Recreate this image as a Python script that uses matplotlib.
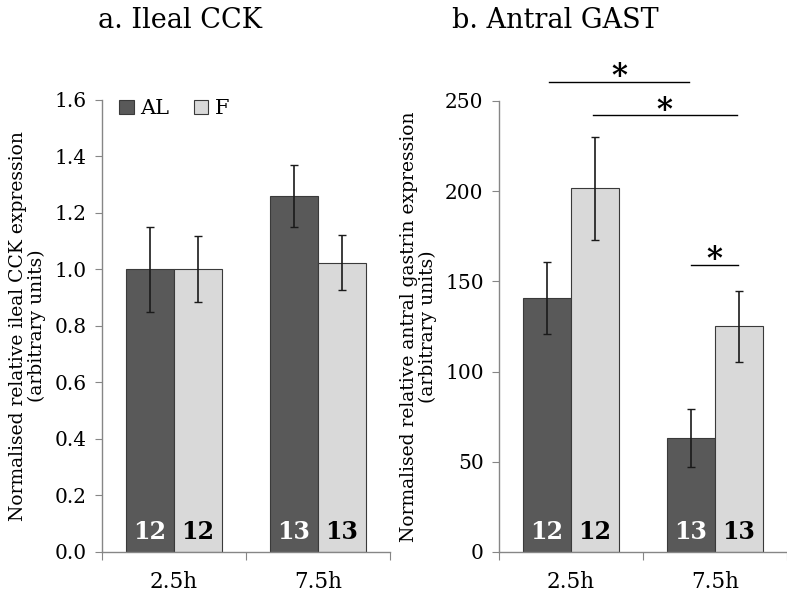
import matplotlib
matplotlib.use("Agg")
import matplotlib.pyplot as plt
import numpy as np

plt.rcParams['font.family'] = ['DejaVu Serif']

categories = ["2.5h", "7.5h"]
groups = ["AL", "F"]

cck_al = [1.000, 1.260]
cck_al_err = [0.150, 0.111]
cck_f = [1.002, 1.024]
cck_f_err = [0.118, 0.097]
cck_n_al = ["12", "13"]
cck_n_f = ["12", "13"]

gast_al = [140.6, 63.4]
gast_al_err = [20.0, 16.1]
gast_f = [201.7, 125.1]
gast_f_err = [28.5, 19.8]
gast_n_al = ["12", "13"]
gast_n_f = ["12", "13"]

# significance brackets: (x_start, x_end, y)
sig_lines = [(-0.153, 0.822, 260.5), (0.150, 1.150, 242.0), (0.836, 1.162, 159.0)]

dark = "#595959"
light = "#d9d9d9"
edge = "#3a3a3a"
spine = "#868686"

fig = plt.figure(figsize=(7.87, 5.92), dpi=100)
ax1 = fig.add_axes([0.1296, 0.0676, 0.366, 0.7635])
ax2 = fig.add_axes([0.634, 0.0676, 0.366, 0.7618])

w = 1/3
x = np.arange(len(categories))

def draw(ax, al, ale, f, fe, nal, nf, ylim, yticks, fmt, ylabel, npos):
    ax.bar(x - w/2, al, w, color=dark, edgecolor=edge, linewidth=0.8, zorder=2, label=groups[0])
    ax.bar(x + w/2, f, w, color=light, edgecolor=edge, linewidth=0.8, zorder=2, label=groups[1])
    ax.errorbar(x - w/2, al, yerr=ale, fmt='none', ecolor='#1a1a1a', elinewidth=1.2, capsize=3, capthick=1.0, zorder=3)
    ax.errorbar(x + w/2, f, yerr=fe, fmt='none', ecolor='#1a1a1a', elinewidth=1.2, capsize=3, capthick=1.0, zorder=3)
    for i in range(len(categories)):
        ax.text(x[i] - w/2, npos, nal[i], ha='center', va='center', color='white', fontsize=17, fontweight='bold', zorder=4)
        ax.text(x[i] + w/2, npos, nf[i], ha='center', va='center', color='black', fontsize=17, fontweight='bold', zorder=4)
    ax.set_xlim(-0.5, 1.5)
    ax.set_ylim(*ylim)
    ax.set_yticks(yticks)
    ax.set_yticklabels([fmt.format(v) for v in yticks], fontsize=14.5)
    ax.set_xticks([-0.5, 0.5, 1.5])
    ax.set_xticklabels([])
    ax.set_xticks(x, minor=True)
    ax.set_xticklabels(categories, minor=True, fontsize=15.5)
    ax.tick_params(axis='x', which='minor', length=0, pad=14)
    ax.tick_params(axis='x', which='major', length=6, direction='out', color=spine)
    ax.tick_params(axis='y', length=5, direction='out', color=spine, pad=6)
    for s in ['top', 'right']:
        ax.spines[s].set_visible(False)
    for s in ['left', 'bottom']:
        ax.spines[s].set_color(spine)
        ax.spines[s].set_linewidth(1.0)
    ax.set_ylabel(ylabel, fontsize=13.5, labelpad=6, linespacing=1.05)

draw(ax1, cck_al, cck_al_err, cck_f, cck_f_err, cck_n_al, cck_n_f, (0, 1.6),
     [0, 0.2, 0.4, 0.6, 0.8, 1.0, 1.2, 1.4, 1.6], "{:.1f}",
     "Normalised relative ileal CCK expression\n(arbitrary units)", 0.072)
draw(ax2, gast_al, gast_al_err, gast_f, gast_f_err, gast_n_al, gast_n_f, (0, 250),
     [0, 50, 100, 150, 200, 250], "{:.0f}",
     "Normalised relative antral gastrin expression\n(arbitrary units)", 11)

leg = ax1.legend(loc='upper left', bbox_to_anchor=(0.03, 1.02), ncol=2, frameon=False, fontsize=15,
                 handlelength=0.7, handleheight=0.7, handletextpad=0.3, columnspacing=1.2, borderaxespad=0)

for (xs, xe, y) in sig_lines:
    ax2.plot([xs, xe], [y, y], color='black', lw=1.0, clip_on=False)
    ax2.text((xs + xe) / 2, y + 3, "*", ha='center', va='center', fontsize=22, fontweight='bold', clip_on=False)

fig.text(0.229, 0.965, "a. Ileal CCK", ha='center', va='center', fontsize=19.5)
fig.text(0.705, 0.965, "b. Antral GAST", ha='center', va='center', fontsize=19.5)

fig.savefig("out.png", dpi=100)
